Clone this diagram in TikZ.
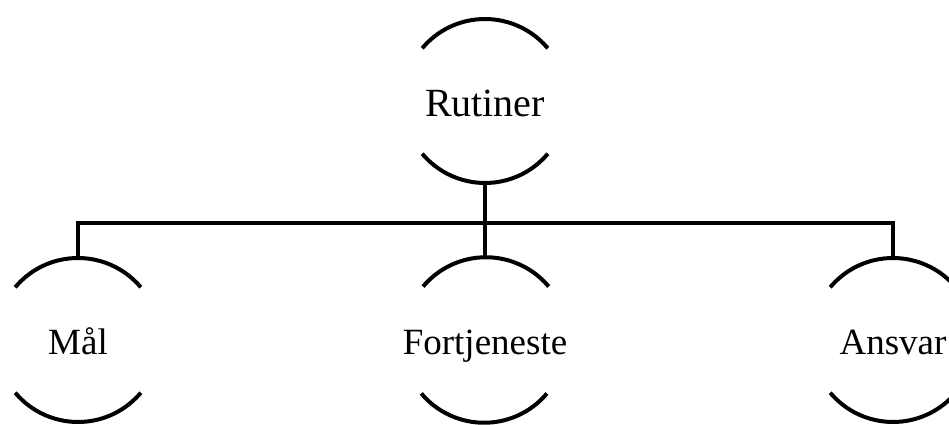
\documentclass[tikz,border=0pt]{standalone}
\usepackage{fontspec}
\setmainfont{Liberation Serif}
\begin{document}
\begin{tikzpicture}[x=1pt,y=1pt,
  orgnode/.style={circle,minimum size=164pt,inner sep=0pt,outer sep=0pt,
    text height=29pt,text depth=0pt,font=\fontsize{37}{44}\selectfont},
  topnode/.style={orgnode,text height=31pt,font=\fontsize{40}{48}\selectfont},
  arcline/.style={line width=4pt},
  conn/.style={line width=4pt,line join=miter}]
\useasboundingbox (0,0) rectangle (949,425);
\node[topnode] (top) at (485,324) {Rutiner};
\node[orgnode] (m) at (78,85) {Mål};
\node[orgnode] (f) at (485,85) {Fortjeneste};
\node[orgnode] (a) at (893,85) {Ansvar};
\coordinate (bar) at (0,202);
\foreach \n in {top,m,f,a}{
  \draw[arcline] (\n.40) arc[start angle=40,end angle=140,radius=82pt];
  \draw[arcline] (\n.220) arc[start angle=220,end angle=320,radius=82pt];
}
\draw[conn] (m.north) -- (m.north |- bar) -- (a.north |- bar) -- (a.north);
\draw[conn] (top.south) -- (f.north);
\end{tikzpicture}
\end{document}
